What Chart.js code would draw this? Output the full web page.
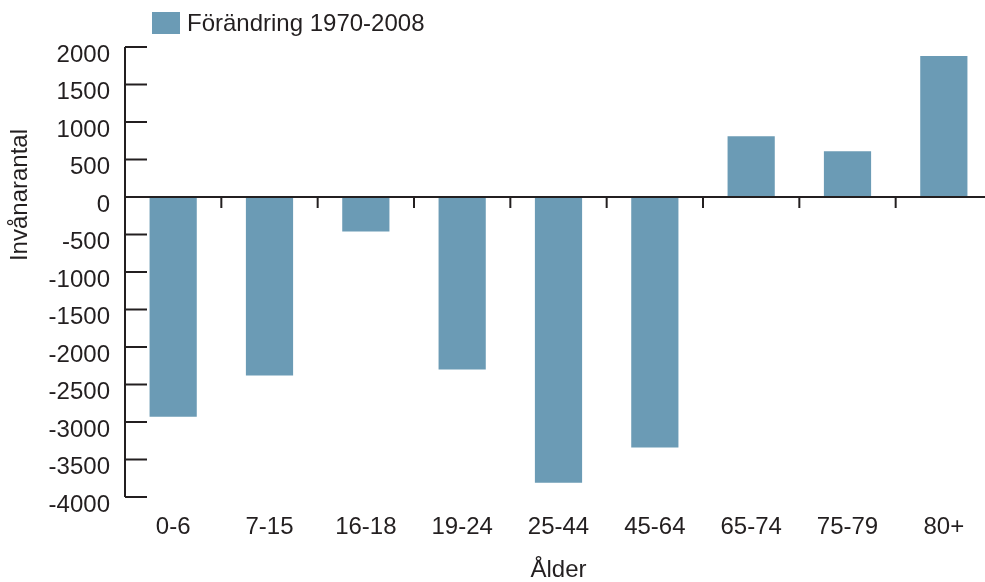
<!DOCTYPE html>
<html>
<head>
<meta charset="utf-8">
<script src="https://cdn.jsdelivr.net/npm/chart.js@4"></script>
<style>
	html, body { margin: 0; padding: 0; background: #fff; overflow: hidden; }
	#wrap { width: 1000px; height: 582px; }
</style>
</head>
<body>
<div id="wrap"><canvas id="chart"></canvas></div>
<script>
	"use strict";

	// data
	const categories = ['0-6', '7-15', '16-18', '19-24', '25-44', '45-64', '65-74', '75-79', '80+'];
	const change = [-2930, -2380, -460, -2300, -3810, -3340, 810, 610, 1880];
	const seriesLabel = 'Förändring 1970-2008';
	const yTitle = 'Invånarantal';
	const xTitle = 'Ålder';

	const barColor = '#6b9bb5';
	const ink = '#231f20';
	const font = 'Liberation Sans, Arial, sans-serif';

	// axis lines, inward ticks, legend and y title
	const decorations = {
		id: 'decorations',
		afterDatasetsDraw(chart) {
			const ctx = chart.ctx;
			const y = chart.scales.y;
			const x = chart.scales.x;
			const area = chart.chartArea;
			const zero = y.getPixelForValue(0);
			ctx.save();
			ctx.strokeStyle = ink;
			ctx.lineWidth = 2;

			// y axis line
			ctx.beginPath();
			ctx.moveTo(area.left, y.getPixelForValue(y.max));
			ctx.lineTo(area.left, y.getPixelForValue(y.min));
			ctx.stroke();

			// y ticks pointing into the plot
			y.ticks.forEach(t => {
				const py = y.getPixelForValue(t.value);
				ctx.beginPath();
				ctx.moveTo(area.left, py);
				ctx.lineTo(area.left + 22, py);
				ctx.stroke();
			});

			// zero line
			ctx.beginPath();
			ctx.moveTo(area.left, zero);
			ctx.lineTo(area.right, zero);
			ctx.stroke();

			// ticks between categories
			for (let i = 0; i < categories.length - 1; i++) {
				const px = (x.getPixelForValue(i) + x.getPixelForValue(i + 1)) / 2;
				ctx.beginPath();
				ctx.moveTo(px, zero);
				ctx.lineTo(px, zero + 11);
				ctx.stroke();
			}

			// legend
			ctx.fillStyle = barColor;
			ctx.fillRect(152, 12, 28, 22);
			ctx.fillStyle = ink;
			ctx.font = '24px ' + font;
			ctx.textBaseline = 'middle';
			ctx.textAlign = 'left';
			ctx.fillText(seriesLabel, 187, 24);

			// y title
			ctx.translate(20, 195);
			ctx.rotate(-Math.PI / 2);
			ctx.textAlign = 'center';
			ctx.fillText(yTitle, 0, 0);
			ctx.restore();
		}
	};

	const data = {
		labels: categories,
		datasets: [{
			label: seriesLabel,
			data: change,
			backgroundColor: barColor,
			borderWidth: 0,
			categoryPercentage: 1,
			barPercentage: 0.49
		}]
	};

	const config = {
		type: 'bar',
		data: data,
		options: {
			responsive: true,
			maintainAspectRatio: false,
			animation: false,
			layout: {
				padding: { top: 47, right: 8, bottom: 0, left: 0 }
			},
			plugins: {
				legend: { display: false },
				tooltip: { enabled: false }
			},
			scales: {
				x: {
					grid: { display: false, drawTicks: false },
					border: { display: false },
					ticks: {
						color: ink,
						font: { family: font, size: 24 },
						padding: 16,
						maxRotation: 0
					},
					title: {
						display: true,
						text: xTitle,
						color: ink,
						font: { family: font, size: 24 },
						padding: { top: 4, bottom: -3 }
					},
					afterFit(scale) { scale.height = 85; }
				},
				y: {
					min: -4000,
					max: 2000,
					grid: { display: false, drawTicks: false },
					border: { display: false },
					ticks: {
						stepSize: 500,
						color: ink,
						font: { family: font, size: 24 },
						padding: 15,
						labelOffset: 8,
						callback: v => String(v)
					},
					afterFit(scale) { scale.width = 125; }
				}
			}
		},
		plugins: [decorations]
	};

	const myChart = new Chart(document.getElementById('chart'), config);
</script>
</body>
</html>
